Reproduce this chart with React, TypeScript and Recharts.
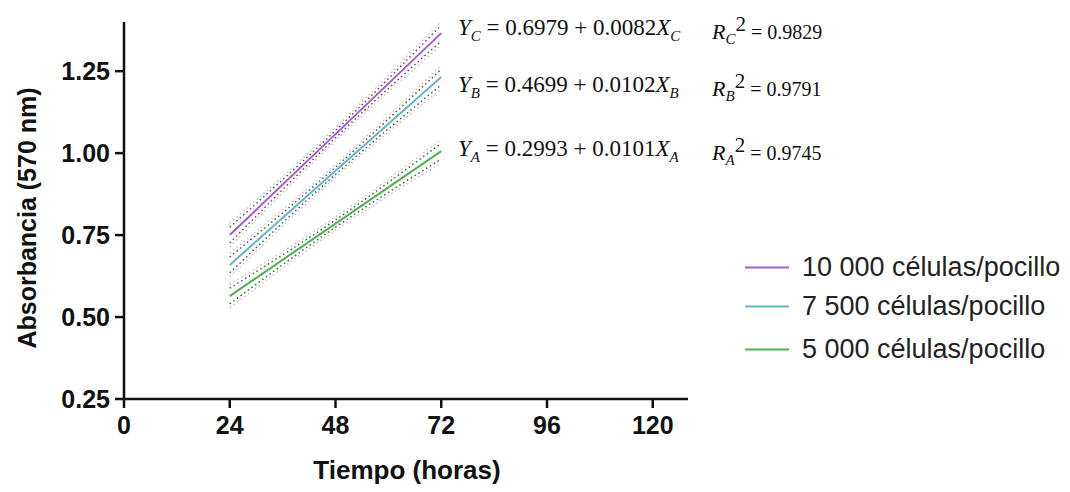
import { LineChart, Line, XAxis, YAxis } from "recharts";

// horas de incubación
const hours = [24, 48, 72];
const xTicks = [0, 24, 48, 72, 96, 120];
const yTicks = [0.25, 0.5, 0.75, 1.0, 1.25];

// rectas de regresión (10 000 / 7 500 / 5 000 células por pocillo)
const fitC = [0.75, 1.058, 1.366];
const fitB = [0.659, 0.946, 1.232];
const fitA = [0.564, 0.785, 1.006];

// bandas de confianza (punteadas)
const bandCDarkHi = [0.774, 1.069, 1.39];
const bandCDarkLo = [0.726, 1.047, 1.342];
const bandCLightHi = [0.786, 1.078, 1.402];
const bandCLightLo = [0.714, 1.038, 1.33];
const bandBDarkHi = [0.683, 0.957, 1.256];
const bandBDarkLo = [0.635, 0.935, 1.208];
const bandBLightHi = [0.695, 0.966, 1.268];
const bandBLightLo = [0.623, 0.926, 1.196];
const bandADarkHi = [0.588, 0.796, 1.03];
const bandADarkLo = [0.54, 0.774, 0.982];
const bandALightHi = [0.6, 0.805, 1.042];
const bandALightLo = [0.528, 0.765, 0.97];

const PURPLE = "#a35bd6";
const BLUE = "#62b6cb";
const GREEN = "#4eb44a";

const toPoints = (vals: number[]) => hours.map((h, i) => ({ h, v: vals[i] }));

const series = [
  { key: "c", vals: fitC, color: PURPLE },
  { key: "b", vals: fitB, color: BLUE },
  { key: "a", vals: fitA, color: GREEN },
];

const bands = [
  { key: "cdh", vals: bandCDarkHi, dark: true },
  { key: "cdl", vals: bandCDarkLo, dark: true },
  { key: "clh", vals: bandCLightHi, dark: false },
  { key: "cll", vals: bandCLightLo, dark: false },
  { key: "bdh", vals: bandBDarkHi, dark: true },
  { key: "bdl", vals: bandBDarkLo, dark: true },
  { key: "blh", vals: bandBLightHi, dark: false },
  { key: "bll", vals: bandBLightLo, dark: false },
  { key: "adh", vals: bandADarkHi, dark: true },
  { key: "adl", vals: bandADarkLo, dark: true },
  { key: "alh", vals: bandALightHi, dark: false },
  { key: "all", vals: bandALightLo, dark: false },
];

const legendItems = [
  { label: "10 000 células/pocillo", color: PURPLE, y: 267 },
  { label: "7 500 células/pocillo", color: BLUE, y: 306 },
  { label: "5 000 células/pocillo", color: GREEN, y: 349 },
];

const equations = [
  { sub: "C", a: "0.6979", b: "0.0082", r2: "0.9829", y: 30 },
  { sub: "B", a: "0.4699", b: "0.0102", r2: "0.9791", y: 87 },
  { sub: "A", a: "0.2993", b: "0.0101", r2: "0.9745", y: 151 },
];

const sans = "'Liberation Sans', Arial, sans-serif";
const serif = "'Liberation Serif', 'Times New Roman', serif";
const tickStyle = { fontSize: 25, fontWeight: 700, fill: "#111", fontFamily: sans };

const Equation = ({ e }: { e: (typeof equations)[number] }) => (
  <div style={{ position: "absolute", left: 0, top: e.y, fontFamily: serif, color: "#111", whiteSpace: "nowrap" }}>
    <span style={{ position: "absolute", left: 458, fontSize: 23, transform: "translateY(-50%)" }}>
      <i>Y</i>
      <sub style={{ fontSize: 15 }}><i>{e.sub}</i></sub>
      {` = ${e.a} + ${e.b}`}
      <i>X</i>
      <sub style={{ fontSize: 15 }}><i>{e.sub}</i></sub>
    </span>
    <span style={{ position: "absolute", left: 712, fontSize: 22, transform: "translateY(-50%)" }}>
      <i>R</i>
      <sub style={{ fontSize: 15 }}><i>{e.sub}</i></sub>
      <sup style={{ fontSize: 21 }}>2</sup>
      <span style={{ fontSize: 20 }}>{` = ${e.r2}`}</span>
    </span>
  </div>
);

export default function App() {
  return (
    <div style={{ position: "absolute", left: 0, top: 0, width: 1070, height: 492, background: "#fff" }}>
      <LineChart width={1070} height={492} margin={{ top: 22, right: 382, left: 50, bottom: 43 }}>
        <XAxis
          dataKey="h"
          type="number"
          domain={[0, 128]}
          ticks={xTicks}
          allowDuplicatedCategory={false}
          height={50}
          tick={tickStyle}
          tickSize={9}
          tickMargin={8}
          axisLine={{ stroke: "#111", strokeWidth: 2.5 }}
          tickLine={{ stroke: "#111", strokeWidth: 2.5 }}
        />
        <YAxis
          type="number"
          domain={[0.25, 1.4]}
          ticks={yTicks}
          width={74}
          tickFormatter={(v: number) => v.toFixed(2)}
          tick={tickStyle}
          tickSize={9}
          tickMargin={5}
          axisLine={{ stroke: "#111", strokeWidth: 2.5 }}
          tickLine={{ stroke: "#111", strokeWidth: 2.5 }}
          allowDataOverflow
        />
        {bands.map((b) => (
          <Line
            key={b.key}
            data={toPoints(b.vals)}
            dataKey="v"
            type="monotone"
            stroke={b.dark ? "#555" : "#c4c4c4"}
            strokeWidth={1.5}
            strokeDasharray="1.5 3"
            dot={false}
            isAnimationActive={false}
          />
        ))}
        {series.map((s) => (
          <Line
            key={s.key}
            data={toPoints(s.vals)}
            dataKey="v"
            type="linear"
            stroke={s.color}
            strokeWidth={2}
            dot={false}
            isAnimationActive={false}
          />
        ))}
      </LineChart>

      {/* títulos de ejes */}
      <div
        style={{
          position: "absolute",
          left: 27,
          top: 218,
          transform: "translate(-50%, -50%) rotate(-90deg)",
          fontFamily: sans,
          fontWeight: 700,
          fontSize: 25,
          color: "#111",
          whiteSpace: "nowrap",
        }}
      >
        Absorbancia (570 nm)
      </div>
      <div
        style={{
          position: "absolute",
          left: 407,
          top: 470,
          transform: "translate(-50%, -50%)",
          fontFamily: sans,
          fontWeight: 700,
          fontSize: 26,
          color: "#111",
          whiteSpace: "nowrap",
        }}
      >
        Tiempo (horas)
      </div>

      {equations.map((e) => (
        <Equation key={e.sub} e={e} />
      ))}

      {/* leyenda */}
      {legendItems.map((it) => (
        <div
          key={it.label}
          style={{
            position: "absolute",
            left: 745,
            top: it.y,
            transform: "translateY(-50%)",
            display: "flex",
            alignItems: "center",
            fontFamily: sans,
            fontSize: 27,
            color: "#222",
            whiteSpace: "nowrap",
          }}
        >
          <div style={{ width: 44, height: 2, background: it.color, marginRight: 13 }} />
          <span>{it.label}</span>
        </div>
      ))}
    </div>
  );
}
